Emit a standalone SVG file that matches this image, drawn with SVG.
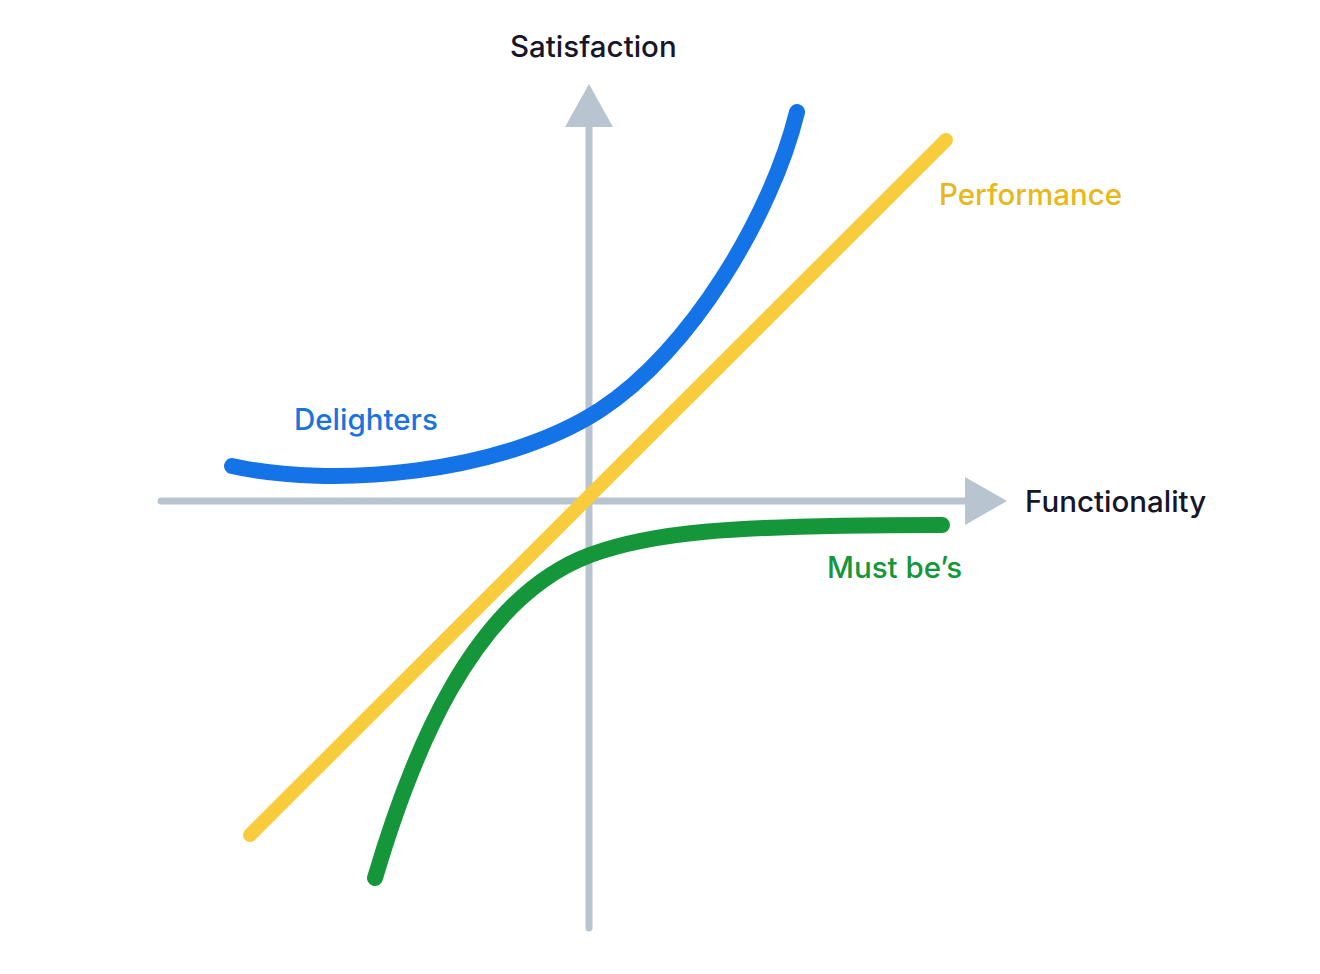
<svg xmlns="http://www.w3.org/2000/svg" width="1320" height="974" viewBox="0 0 1320 974">
<style>
.axis{stroke:#b9c4d1;stroke-width:7;stroke-linecap:round;fill:none}
.head{fill:#b9c4d1}
.curve{fill:none;stroke-linecap:round}
.lbl{font-family:Inter,"Liberation Sans",sans-serif;font-size:29.5px;font-weight:500}
</style>
<rect width="1320" height="974" fill="#ffffff"/>
<g id="connectors">
<g id="y-axis">
<line class="axis" x1="589" y1="120" x2="589" y2="928"/>
<polygon class="head" points="589,84 613,127 565,127"/>
</g>
<g id="x-axis">
<line class="axis" x1="161" y1="501" x2="970" y2="501"/>
<polygon class="head" points="1007,501 965,477 965,525"/>
</g>
</g>
<g id="performance">
<line class="curve" x1="250" y1="835" x2="946" y2="140" stroke="#f8cc3c" stroke-width="14"/>
<text class="lbl" x="939" y="205" fill="#e8b71b">Performance</text>
</g>
<g id="delighters">
<path class="curve" d="M232,466 C330,488 500,475 600,410 C690,352 772,215 797,112" stroke="#1473e6" stroke-width="16"/>
<text class="lbl" x="294" y="430" fill="#1a73e0">Delighters</text>
</g>
<g id="mustbes">
<path class="curve" d="M375,878 C410,760 470,600 590,555 C650,533 720,525 942,525" stroke="#15963a" stroke-width="16"/>
<text class="lbl" x="827" y="578" fill="#15963a">Must be’s</text>
</g>
<g id="labels">
<text class="lbl" x="510" y="57" fill="#16162a">Satisfaction</text>
<text class="lbl" x="1025" y="512" fill="#16162a">Functionality</text>
</g>
</svg>
